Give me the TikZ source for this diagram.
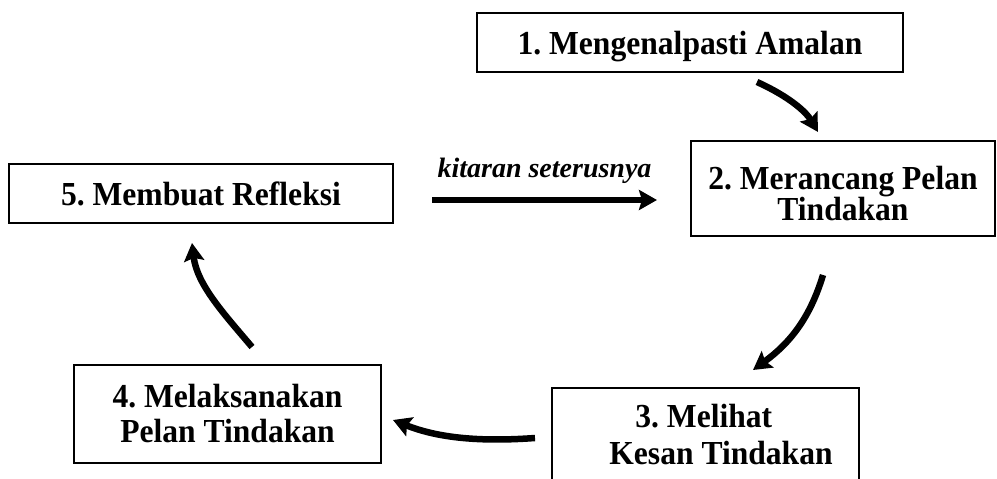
\documentclass[tikz,border=0pt]{standalone}
\usepackage{fontspec}
\setmainfont{Liberation Serif}
\newfontfamily\stagefont[FakeStretch=0.94]{Liberation Serif}
\usetikzlibrary{arrows.meta}
\newcommand{\stagesize}[1]{\fontsize{33.6bp}{#1}\stagefont\bfseries\frenchspacing}
\begin{document}
\begin{tikzpicture}[x=1bp,y=-1bp,
  stagebox/.style={draw=black, line width=2bp, rectangle, inner sep=0pt,
    align=center, font=\stagesize{33bp}},
  flow/.style={line width=6.5bp, -{Stealth[length=18bp,width=20bp,inset=3bp]}},
  cyclelabel/.style={font=\fontsize{28bp}{30bp}\selectfont\bfseries\itshape\frenchspacing}]
\useasboundingbox (0,0) rectangle (997,479);
\clip (0,0) rectangle (997,479);

% the five stages of the cycle
\node[stagebox, minimum width=426bp, minimum height=59bp] (s1) at (690,42.5)
  {\rule{0pt}{31bp}1. Mengenalpasti Amalan};
\node[stagebox, minimum width=304bp, minimum height=95bp,
  font=\stagesize{31bp}] (s2) at (843,188.5)
  {\rule{0pt}{33bp}2. Merancang Pelan\\Tindakan};
\node[stagebox, minimum width=307bp, minimum height=94bp, align=left,
  font=\stagesize{37bp}] (s3) at (705,435)
  {\hspace*{58bp}3. Melihat\\\hspace*{32bp}Kesan Tindakan};
\node[stagebox, minimum width=307bp, minimum height=98bp,
  font=\stagesize{35bp}] (s4) at (227.5,414)
  {4. Melaksanakan\\Pelan Tindakan};
\node[stagebox, minimum width=384bp, minimum height=59bp] (s5) at (201,193.5)
  {5. Membuat Refleksi};

% arrow end points
\coordinate (a1s) at (757,82);   \coordinate (a1e) at (818,132);
\coordinate (a2s) at (823,275);  \coordinate (a2e) at (753,370);
\coordinate (a3s) at (535,438);  \coordinate (a3e) at (393,420);
\coordinate (a4s) at (252,347);  \coordinate (a4e) at (192,243);
\coordinate (a5s) at (432,200);  \coordinate (a5e) at (657,200);

\draw[flow] (a1s) .. controls (790,97) and (806,112) .. (a1e);
\draw[flow] (a2s) .. controls (810,318) and (790,343) .. (a2e);
\draw[flow] (a3s) .. controls (480,442) and (438,438) .. (a3e);
\draw[flow] (a4s) .. controls (225,315) and (197,285) .. (a4e);
\draw[flow] (a5s) -- (a5e)
  node[cyclelabel, midway, above=10bp] (next) {kitaran seterusnya};
\end{tikzpicture}
\end{document}
